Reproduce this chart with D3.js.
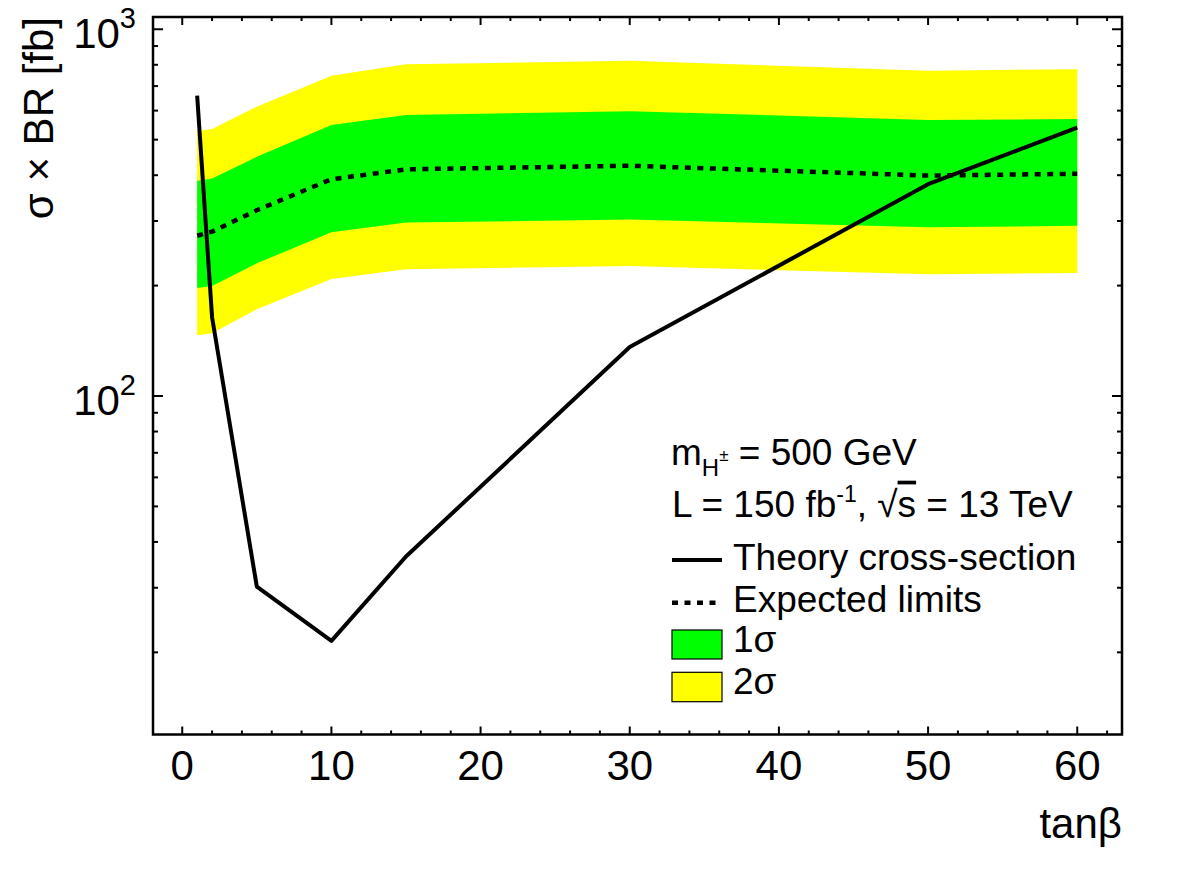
<!DOCTYPE html>
<html>
<head>
<meta charset="utf-8">
<script src="https://cdn.jsdelivr.net/npm/d3@7"></script>
<style>
  body { margin: 0; background: #fff; }
  text { font-family: "Liberation Sans", Arial, sans-serif; fill: #000; }
</style>
</head>
<body>
<svg id="chart" width="1182" height="886"></svg>
<script>
// tanβ points where everything was computed
const tanBeta = [1, 2, 5, 10, 15, 30, 50, 60];

// Theory cross-section (fb)
const theory = [659, 164, 30.2, 21.5, 36.5, 136, 378, 539];

// Expected limit and its bands (fb)
const expected = [273.5, 280.6, 321, 390, 415, 424.5, 399, 403.6];
const sigma1Up = [386, 392, 449, 548, 584, 598, 566, 569];
const sigma1Dn = [197, 199.5, 230, 279.5, 297, 303, 288.5, 291];
const sigma2Up = [528, 535, 615, 747, 803, 820, 771, 778];
const sigma2Dn = [146.4, 148.3, 172.4, 208.5, 221.6, 226.2, 214.7, 216.5];

const xTicks = [0, 10, 20, 30, 40, 50, 60];
const yTicks = [100, 1000];

// frame of the plot
const fLeft = 153, fRight = 1122, fTop = 17, fBottom = 734.5;

const svg = d3.select("#chart");

const x = d3.scaleLinear().domain([-1.96, 63.0]).range([fLeft, fRight]);
const y = d3.scaleLog().domain([11.94, 1080]).range([fBottom, fTop]);

// band areas
function band(lo, hi) {
  return d3.area()
    .x((d, i) => x(tanBeta[i]))
    .y0((d, i) => y(lo[i]))
    .y1((d, i) => y(hi[i]))(tanBeta);
}

svg.append("path").attr("d", band(sigma2Dn, sigma2Up)).attr("fill", "#ffff00");
svg.append("path").attr("d", band(sigma1Dn, sigma1Up)).attr("fill", "#00ff00");

const line = vals => d3.line()
  .x((d, i) => x(tanBeta[i]))
  .y((d, i) => y(vals[i]))(tanBeta);

svg.append("path")
  .attr("d", line(expected))
  .attr("fill", "none")
  .attr("stroke", "#000")
  .attr("stroke-width", 4.5)
  .attr("stroke-dasharray", "6,6.5");

svg.append("path")
  .attr("d", line(theory))
  .attr("fill", "none")
  .attr("stroke", "#000")
  .attr("stroke-width", 4)
  .attr("stroke-linejoin", "round");

// frame
svg.append("rect")
  .attr("x", fLeft).attr("y", fTop)
  .attr("width", fRight - fLeft).attr("height", fBottom - fTop)
  .attr("fill", "none")
  .attr("stroke", "#000")
  .attr("stroke-width", 2.5);

// x ticks (bottom and top, pointing inward)
const xMinor = d3.range(0, 63, 2);
const tickG = svg.append("g").attr("stroke", "#000").attr("stroke-width", 2);
xMinor.forEach(v => {
  const len = v % 10 === 0 ? 8 : 4;
  tickG.append("line").attr("x1", x(v)).attr("x2", x(v)).attr("y1", fBottom).attr("y2", fBottom - len);
  tickG.append("line").attr("x1", x(v)).attr("x2", x(v)).attr("y1", fTop).attr("y2", fTop + len);
});

// y ticks, log minor ticks
const yMinor = [];
[10, 100, 1000].forEach(dec => {
  for (let k = 1; k <= 9; k++) {
    const v = dec * k;
    if (v >= 11.94 && v <= 1080) yMinor.push(v);
  }
});
yMinor.forEach(v => {
  const len = yTicks.includes(v) ? 10 : 5;
  tickG.append("line").attr("x1", fLeft).attr("x2", fLeft + len).attr("y1", y(v)).attr("y2", y(v));
  tickG.append("line").attr("x1", fRight).attr("x2", fRight - len).attr("y1", y(v)).attr("y2", y(v));
});

// x tick labels
svg.append("g").selectAll("text")
  .data(xTicks)
  .enter()
  .append("text")
  .attr("x", d => x(d))
  .attr("y", 780)
  .attr("text-anchor", "middle")
  .attr("font-size", 42)
  .text(d => d);

// y tick labels: 10^n
yTicks.forEach(v => {
  const t = svg.append("text")
    .attr("x", 136)
    .attr("y", y(v) + 19)
    .attr("text-anchor", "end")
    .attr("font-size", 42);
  t.append("tspan").text("10");
  t.append("tspan").attr("font-size", 29).attr("dy", -20).text(Math.round(Math.log10(v)));
});

// axis titles
svg.append("text")
  .attr("x", fRight)
  .attr("y", 838)
  .attr("text-anchor", "end")
  .attr("font-size", 42)
  .text("tanβ");

svg.append("text")
  .attr("transform", "translate(53,17) rotate(-90)")
  .attr("text-anchor", "end")
  .attr("font-size", 42)
  .text("σ × BR [fb]");

// legend
const lg = svg.append("g").attr("font-size", 37);

const t1 = lg.append("text").attr("x", 671).attr("y", 465);
t1.append("tspan").text("m");
t1.append("tspan").attr("font-size", 24).attr("dy", 11).text("H");
t1.append("tspan").attr("font-size", 17).attr("dy", -15).text("±");
t1.append("tspan").attr("dy", 4).text(" = 500 GeV");

const t2 = lg.append("text").attr("x", 672).attr("y", 516.7);
t2.append("tspan").text("L = 150 fb");
t2.append("tspan").attr("font-size", 23).attr("dy", -15).text("-1");
t2.append("tspan").attr("dy", 15).text(", √");
t2.append("tspan").style("text-decoration", "overline").text("s");
t2.append("tspan").text(" = 13 TeV");

lg.append("line")
  .attr("x1", 672).attr("x2", 722).attr("y1", 560).attr("y2", 560)
  .attr("stroke", "#000").attr("stroke-width", 4);
lg.append("text").attr("x", 733).attr("y", 570).text("Theory cross-section");

lg.append("line")
  .attr("x1", 672).attr("x2", 722).attr("y1", 602.7).attr("y2", 602.7)
  .attr("stroke", "#000").attr("stroke-width", 4.5)
  .attr("stroke-dasharray", "6,6.5");
lg.append("text").attr("x", 733).attr("y", 612).text("Expected limits");

lg.append("rect")
  .attr("x", 672).attr("y", 630).attr("width", 50).attr("height", 29)
  .attr("fill", "#00ff00").attr("stroke", "#000").attr("stroke-width", 1.2);
lg.append("text").attr("x", 733).attr("y", 652).text("1σ");

lg.append("rect")
  .attr("x", 672).attr("y", 672.3).attr("width", 50).attr("height", 29.4)
  .attr("fill", "#ffff00").attr("stroke", "#000").attr("stroke-width", 1.2);
lg.append("text").attr("x", 733).attr("y", 694).text("2σ");
</script>
</body>
</html>
